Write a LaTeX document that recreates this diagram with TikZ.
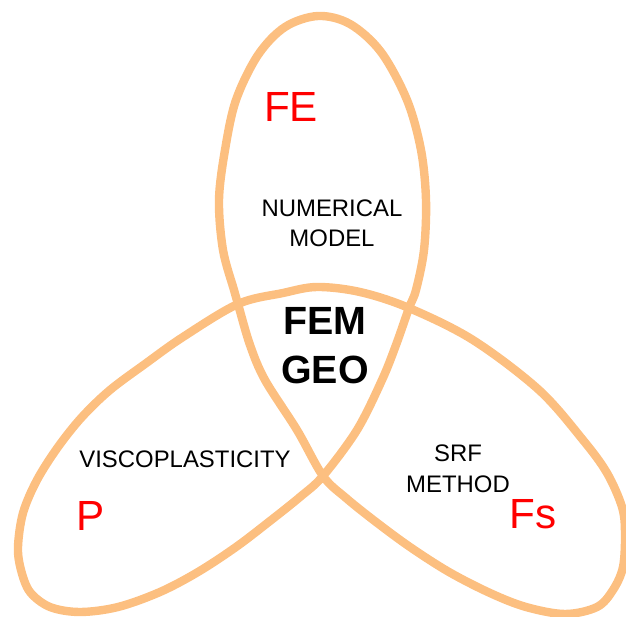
\documentclass[tikz,border=0pt]{standalone}
\usepackage{fontspec}
\setmainfont{Liberation Sans}
\definecolor{petal}{RGB}{252,191,128}
\tikzset{lobe/.style={draw=petal,line width=2.1mm},
 tag/.style={text=red,font=\fontsize{30}{36}\selectfont,inner sep=0pt,anchor=base},
 field/.style={align=center,font=\fontsize{17}{22}\selectfont,inner sep=0pt,anchor=base},
 core/.style={align=center,font=\fontsize{28}{35.4}\selectfont\bfseries,inner sep=0pt,anchor=base}}

\begin{document}
\begin{tikzpicture}[x=0.025cm,y=-0.025cm]
\useasboundingbox (0,0) rectangle (626,617);
% one closed trefoil outline
\draw[lobe] plot[smooth cycle,tension=0.55] coordinates {
 (323,476) (297,430) (265,380) (250,345) (238,304) (234,290) (223,250) (219,200)
 (225,150) (236,100) (258,55) (285,27) (318,16) (350,24) (381,52) (407,100)
 (421,150) (426,200) (424,250) (416,290) (409,308) (396,345) (382,380) (357,430)
 (323,476) (300,497) (270,521) (236,547) (198,572) (160,592) (118,607) (80,612)
 (50,607) (30,592) (21,570) (18,547) (23,513) (37,480) (58,447) (82,417)
 (110,390) (145,364) (183,337) (238,304) (283,293) (317,287) (360,292) (409,308)
 (473,340) (539,390) (583,440) (607,473) (622,507) (625,533) (623,567) (613,590)
 (597,607) (565,614) (526,607) (490,593) (449,572) (410,547) (376,522) (346,498)};
\node[tag] (fe) at (291,122) {FE};
\node[field] (num) at (332,247) {NUMERICAL\\MODEL};
\node[core] (fem) at (325,384) {FEM\\GEO};
\node[field] (visc) at (185,467) {VISCOPLASTICITY};
\node[tag] (p) at (91,530) {P};
\node[field] (srf) at (458,492) {SRF\\METHOD};
\node[tag] (fs) at (533,528) {Fs};
\end{tikzpicture}
\end{document}
